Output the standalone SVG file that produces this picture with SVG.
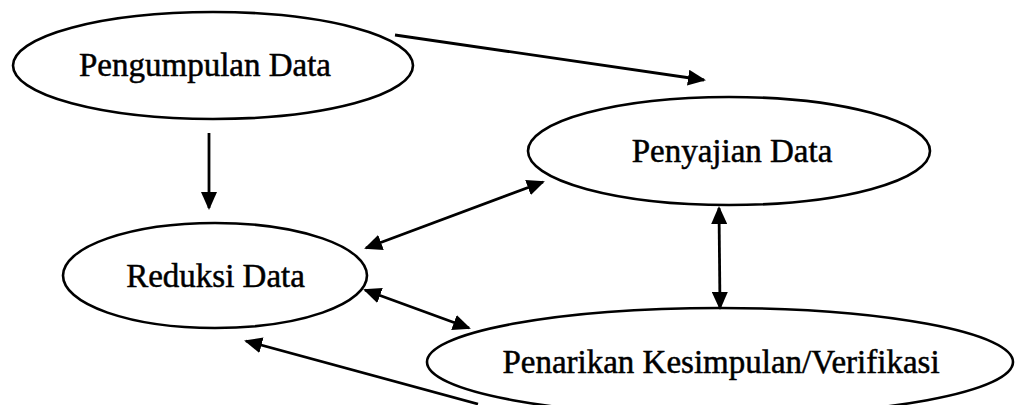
<svg xmlns="http://www.w3.org/2000/svg" width="1017" height="405" viewBox="0 0 1017 405">
<style>
.node ellipse{fill:#fff;stroke:#000;stroke-width:2.6}
.node text{font-family:"Liberation Serif","Times New Roman",serif;font-size:33px;fill:#000;stroke:#000;stroke-width:0.5;text-anchor:middle}
#connectors line{stroke:#000;stroke-width:2.8;fill:none}
.one{marker-end:url(#ah)}
.two{marker-start:url(#ah);marker-end:url(#ah)}
</style>
<defs>
<marker id="ah" viewBox="0 0 18 16" refX="16" refY="8" markerWidth="18" markerHeight="16" markerUnits="userSpaceOnUse" orient="auto-start-reverse">
<path d="M0,0 L18,8 L0,16 z" fill="#000"/>
</marker>
</defs>
<rect width="1017" height="405" fill="#fff"/>
<g id="n-pengumpulan" class="node">
<ellipse cx="213" cy="65.5" rx="200" ry="53.5"/>
<text x="205" y="76">Pengumpulan Data</text>
</g>
<g id="n-penyajian" class="node">
<ellipse cx="729" cy="151" rx="201" ry="54"/>
<text x="732" y="162">Penyajian Data</text>
</g>
<g id="n-reduksi" class="node">
<ellipse cx="215" cy="275.5" rx="152" ry="52.5"/>
<text x="215.5" y="287">Reduksi Data</text>
</g>
<g id="n-penarikan" class="node">
<ellipse cx="720" cy="362" rx="293" ry="54"/>
<text x="721" y="373">Penarikan Kesimpulan/Verifikasi</text>
</g>
<g id="connectors">
<line class="one" x1="395" y1="35" x2="704" y2="80"/>
<line class="one" x1="209" y1="133" x2="209" y2="208"/>
<line class="two" x1="366" y1="248" x2="543" y2="182"/>
<line class="two" x1="719" y1="208" x2="720" y2="308"/>
<line class="two" x1="365" y1="290" x2="469" y2="328"/>
<line class="one" x1="478" y1="404" x2="246" y2="341"/>
</g>
</svg>
